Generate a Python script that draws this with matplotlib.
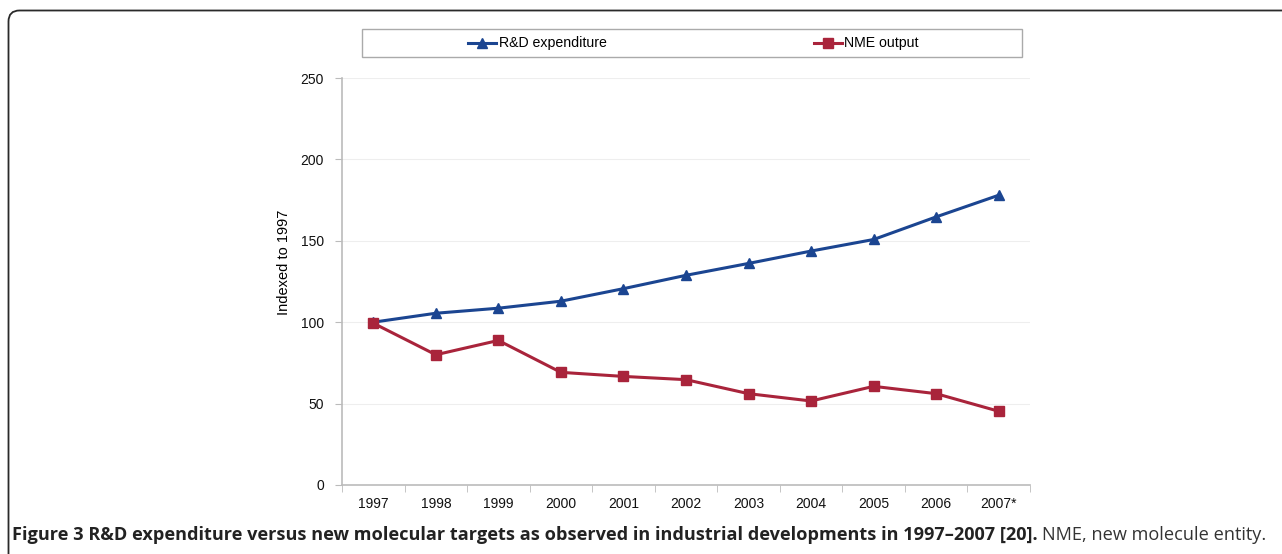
import matplotlib
matplotlib.use("Agg")
import matplotlib.pyplot as plt
from matplotlib.patches import FancyBboxPatch
from matplotlib.lines import Line2D

years = ["1997", "1998", "1999", "2000", "2001", "2002", "2003", "2004", "2005", "2006", "2007*"]
rd_expenditure = [100, 105.5, 108.6, 112.9, 120.6, 128.8, 136.1, 143.7, 150.8, 164.7, 178]
nme_output = [99.4, 80, 88.8, 69.2, 66.7, 64.7, 56.1, 51.6, 60.6, 56.1, 45.3]
y_ticks = [0, 50, 100, 150, 200, 250]

FONT = "Liberation Sans"

W, H = 1282, 554
fig = plt.figure(figsize=(W / 100, H / 100), dpi=100)

# outer rounded frame (in inches so the corner is circular)
frame = FancyBboxPatch((0.085, -1.0), 14.0, (H - 10.5) / 100 + 1.0,
                       boxstyle="round,pad=0,rounding_size=0.11",
                       transform=fig.dpi_scale_trans, fill=False,
                       edgecolor="#2a2a2a", linewidth=1.3, zorder=0)
fig.patches.append(frame)

left, right, top, bottom = 342, 1030, 78, 485
ax = fig.add_axes([left / W, (H - bottom) / H, (right - left) / W, (bottom - top) / H])

x = list(range(len(years)))
blue = "#1b4591"
red = "#a9243b"
ax.plot(x, rd_expenditure, color=blue, lw=2.2, marker="^", ms=7.5, zorder=3)
ax.plot(x, nme_output, color=red, lw=2.2, marker="s", ms=7, zorder=3)

ax.set_xlim(-0.5, len(years) - 0.5)
ax.set_ylim(0, 250)
ax.set_yticks(y_ticks)
ax.set_yticklabels([str(v) for v in y_ticks])
ax.set_xticks(x)
ax.set_xticklabels(years)
ax.set_xticks([i - 0.5 for i in range(len(years) + 1)], minor=True)
ax.tick_params(axis="x", which="major", length=0, pad=9)
ax.tick_params(axis="x", which="minor", length=5, color="#bbbbbb", direction="out")
ax.tick_params(axis="y", length=5, color="#bbbbbb", direction="out", pad=8)
for lab in ax.get_xticklabels() + ax.get_yticklabels():
    lab.set_fontfamily(FONT)
    lab.set_fontsize(10)
    lab.set_color("#111111")

ax.grid(axis="y", color="#eeeeee", lw=0.8)
ax.set_axisbelow(True)
for s in ["top", "right"]:
    ax.spines[s].set_visible(False)
for s in ["left", "bottom"]:
    ax.spines[s].set_color("#bbbbbb")
    ax.spines[s].set_linewidth(1.2)

ax.set_ylabel("Indexed to 1997", fontsize=10.5, family=FONT)
ax.yaxis.set_label_coords((291 - left) / (right - left), (bottom - 262) / (bottom - top))

# legend box
lx0, lx1, ly0, ly1 = 362, 1022, 29, 57
lbox = plt.Rectangle((lx0 / W, (H - ly1) / H), (lx1 - lx0) / W, (ly1 - ly0) / H,
                     transform=fig.transFigure, fill=False, edgecolor="#aaaaaa", lw=1.0)
fig.patches.append(lbox)
ly = (H - 43) / H
fig.add_artist(Line2D([468 / W, 482 / W, 496 / W], [ly, ly, ly], color=blue, lw=2.2,
                      marker="^", ms=7.5, markevery=[1], transform=fig.transFigure))
fig.add_artist(Line2D([814 / W, 828 / W, 842 / W], [ly, ly, ly], color=red, lw=2.2,
                      marker="s", ms=7, markevery=[1], transform=fig.transFigure))
fig.text(499 / W, ly, "R&D expenditure", fontsize=10.2, family=FONT, va="center")
fig.text(844 / W, ly, "NME output", fontsize=10.2, family=FONT, va="center")

# caption
fig.canvas.draw()
r = fig.canvas.get_renderer()
cap_y = (H - 535) / H
t1 = fig.text(12 / W, cap_y, "Figure 3 R&D expenditure versus new molecular targets as observed in industrial developments in 1997\u20132007 [20].",
              fontsize=13.1, family="Open Sans", weight="bold", color="#222222", va="center")
bb = t1.get_window_extent(renderer=r)
fig.text((bb.x1 + 4) / W, cap_y, "NME, new molecule entity.", fontsize=13.1,
         family="Open Sans", color="#333333", va="center")

fig.savefig("out.png", dpi=100)
